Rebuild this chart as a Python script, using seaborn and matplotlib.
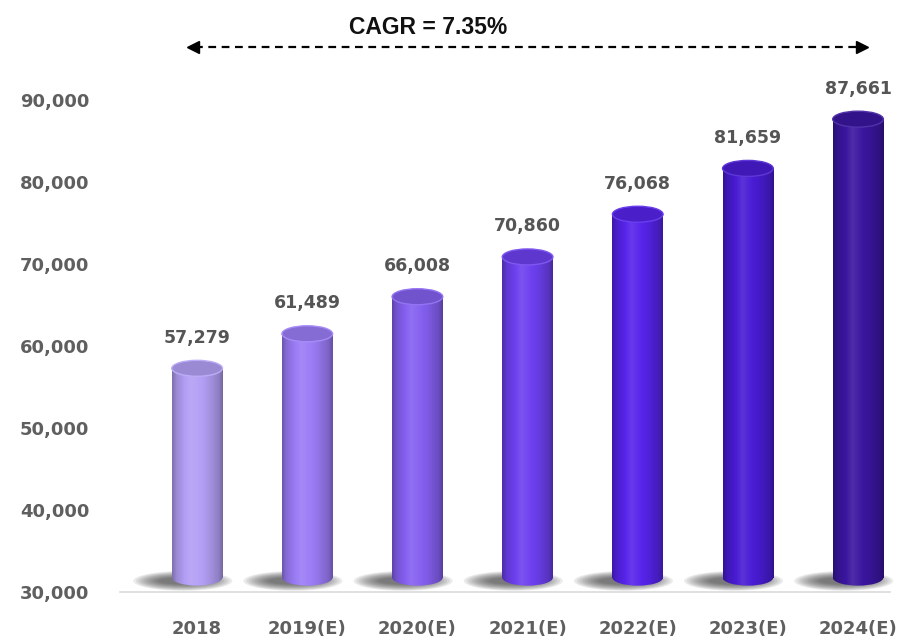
import numpy as np
import matplotlib
matplotlib.use("Agg")
import matplotlib.pyplot as plt
import matplotlib.colors as mcolors
from matplotlib.patches import Ellipse
from matplotlib.transforms import blended_transform_factory
import seaborn as sns

# ---- data ----
years = ["2018", "2019(E)", "2020(E)", "2021(E)", "2022(E)", "2023(E)", "2024(E)"]
values = [57279, 61489, 66008, 70860, 76068, 81659, 87661]
bar_colors = ["#b39ff5", "#9b7cf6", "#8560f0", "#6d40ef", "#5624ea", "#491cd4", "#3a169f"]
y_ticks = [30000, 40000, 50000, 60000, 70000, 80000, 90000]
cagr_text = "CAGR = 7.35%"

sns.set_theme(style="white")
plt.rcParams["font.family"] = ["DejaVu Sans"]

fig = plt.figure(figsize=(9.01, 6.43), dpi=100)
ax = fig.add_axes([120 / 901, 1 - 592 / 643, 770 / 901, 533 / 643])

sns.barplot(x=years, y=values, hue=years, palette=bar_colors, legend=False,
            width=0.46, saturation=1, ax=ax, zorder=3)

ymin, ymax = 30000, 95000
xlo, xhi = -0.70, 6.29
cap_h = 1950      # ellipse height in data units
floor = ymin + 1750  # visual floor of the cylinders

def shade(color, f):
    c = np.array(mcolors.to_rgb(color))
    if f >= 1:
        return c + (1 - c) * (f - 1)
    return c * f

t = np.linspace(0, 1, 64)
profile = np.interp(t, [0, 0.08, 0.38, 0.7, 0.92, 1.0], [0.70, 0.86, 1.10, 0.95, 0.80, 0.66])

for bar, col in zip(ax.patches, bar_colors):
    x0 = bar.get_x()
    w = bar.get_width()
    h = bar.get_height()
    xc = x0 + w / 2
    # soft base shadow (layered for blur)
    n = 10
    for k in range(n):
        s = 1 - k / n
        ax.add_patch(Ellipse((xc - 0.13, ymin + 1350), 0.40 + 0.50 * s, 700 + 1700 * s,
                             facecolor="#2a2a2a", edgecolor="none", alpha=0.09,
                             zorder=2, clip_on=False))
    img = np.array([[shade(col, f) for f in profile]])
    # gradient body above the floor
    im = ax.imshow(img, extent=[x0, x0 + w, floor, h], aspect="auto",
                   zorder=3, interpolation="bicubic")
    im.set_clip_path(bar)
    bar.set_facecolor("none")
    bar.set_edgecolor("none")
    # rounded bottom
    bot = Ellipse((xc, floor), w, cap_h, facecolor="none", edgecolor="none")
    ax.add_patch(bot)
    im2 = ax.imshow(img, extent=[x0, x0 + w, floor - cap_h, floor + 10], aspect="auto",
                    zorder=3, interpolation="bicubic")
    im2.set_clip_path(bot)
    # top cap
    ax.add_patch(Ellipse((xc, h), w, cap_h, facecolor=shade(col, 0.86),
                         edgecolor=shade(col, 1.12), linewidth=1.0, zorder=4))

for i, v in enumerate(values):
    ax.annotate(f"{v:,}", (i, v), xytext=(0, 22), textcoords="offset points",
                ha="center", va="center", fontsize=12.5, fontweight="bold",
                color="#555555")

ax.set_xlim(xlo, xhi)
ax.set_ylim(ymin, ymax)
ax.set_yticks(y_ticks)
ax.set_yticklabels([f"{v:,}" for v in y_ticks])
ax.tick_params(axis="both", length=0, labelsize=13, colors="#5f5f5f")
ax.tick_params(axis="x", pad=20)
ax.tick_params(axis="y", pad=22)
for lab in ax.get_xticklabels() + ax.get_yticklabels():
    lab.set_fontweight("bold")
ax.set_xlabel("")
ax.set_ylabel("")
for s in ["top", "right", "left"]:
    ax.spines[s].set_visible(False)
ax.spines["bottom"].set_color("#dadada")
ax.spines["bottom"].set_linewidth(1.2)
ax.spines["bottom"].set_zorder(1)
ax.grid(False)

# CAGR arrow and text
tr = blended_transform_factory(ax.transData, ax.transAxes)
ax.plot([-0.02, 6.02], [1.0225, 1.0225], transform=tr, color="black",
        linestyle=(0, (3.5, 2.5)), linewidth=1.6, clip_on=False)
ax.plot([-0.04], [1.0225], transform=tr, marker="<", color="black",
        markersize=8, clip_on=False)
ax.plot([6.04], [1.0225], transform=tr, marker=">", color="black",
        markersize=8, clip_on=False)
ax.text(2.1, 1.060, cagr_text, transform=tr, ha="center", va="center",
        fontsize=16.5, fontweight="bold", color="#111111",
        family=["Liberation Sans", "DejaVu Sans"])

fig.savefig("out.png", dpi=100)
